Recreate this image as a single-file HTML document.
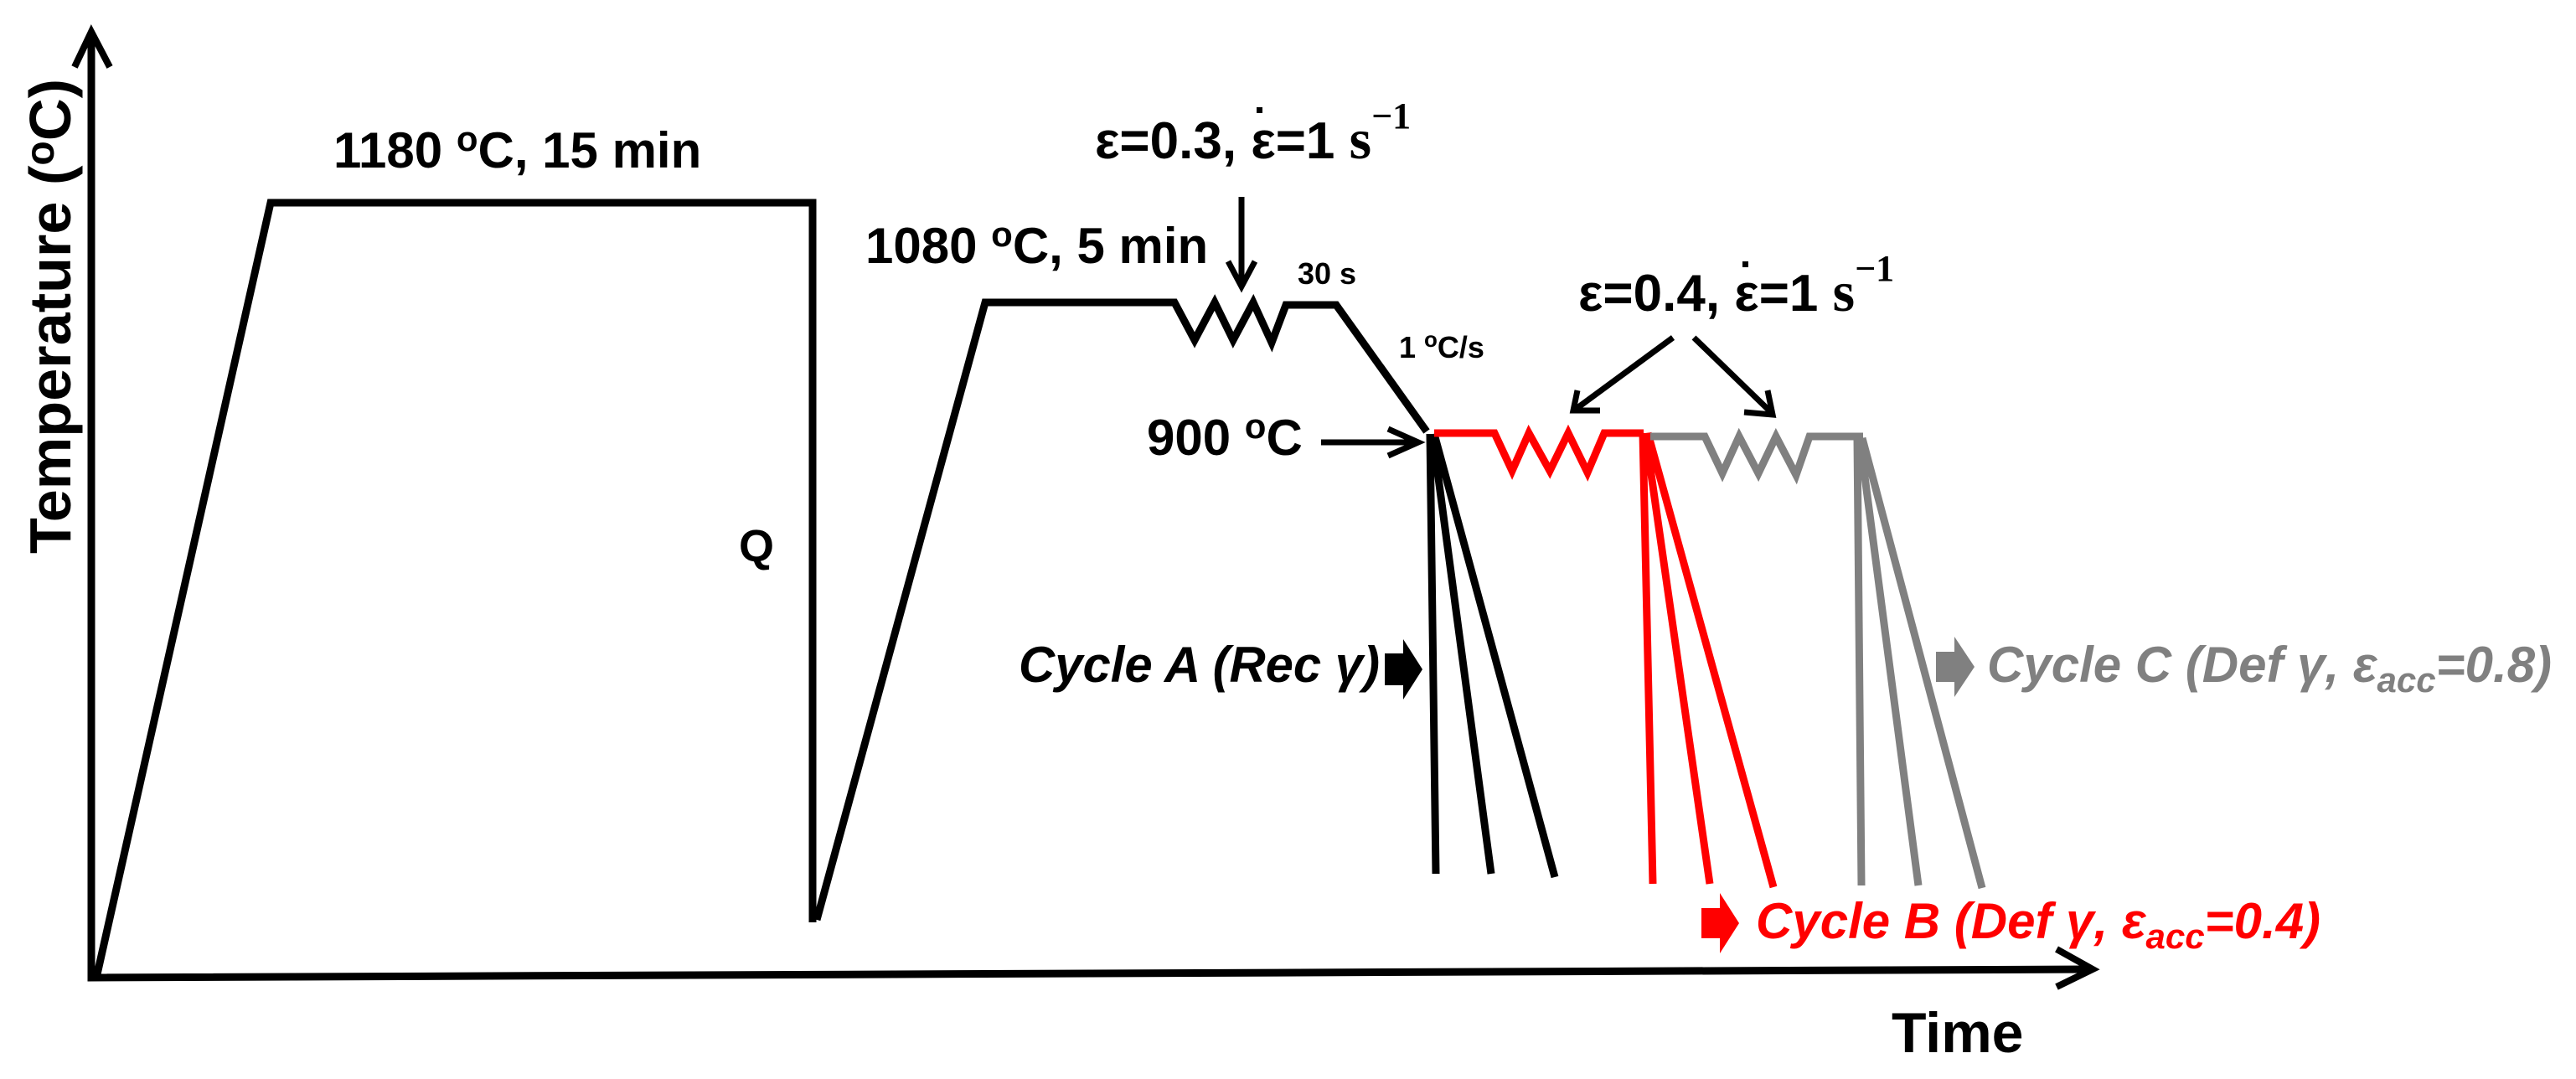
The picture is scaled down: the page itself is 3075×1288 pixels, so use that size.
<!DOCTYPE html>
<html><head><meta charset="utf-8"><style>
html,body{margin:0;padding:0;background:#fff}
svg{display:block}
text{font-family:"Liberation Sans",Arial,sans-serif;font-weight:bold}
</style></head><body>
<svg width="3075" height="1288" viewBox="0 0 3075 1288" xmlns="http://www.w3.org/2000/svg">
<g fill="none" stroke-width="9" stroke-linejoin="miter" stroke-linecap="butt">
<path d="M109 40 L109 1167 L2495 1157" stroke="#000"/>
<path d="M89 80 L109 38 L131 80" stroke="#000" stroke-width="8"/>
<path d="M2455 1133 L2498 1157 L2455 1178" stroke="#000" stroke-width="8"/>
<path d="M116 1163 L323 242 L970 242 L970 1101" stroke="#000"/>
<path d="M975 1098 L1176 361 L1402 361 L1426 406 L1450 361 L1472 406 L1496 361 L1518 409 L1535 364 L1595 364 L1703 515" stroke="#000"/>
<path d="M1707 518 L1714 1043 M1710 518 L1780 1043 M1712 518 L1856 1047" stroke="#000"/>
<path d="M1712 517 L1784 517 L1805 562 L1825 517 L1850 562 L1872 517 L1895 564 L1915 517 L1962 517" stroke="#ff0000"/>
<path d="M1961 517 L1973 1055 M1964 517 L2041 1055 M1967 517 L2117 1059" stroke="#ff0000"/>
<path d="M1970 521 L2035 521 L2056 565 L2076 521 L2099 565 L2120 521 L2144 567 L2160 521 L2224 521" stroke="#808080"/>
<path d="M2217 523 L2222 1057 M2220 523 L2290 1057 M2223 523 L2366 1060" stroke="#808080"/>
<path d="M1482 235 L1482 340" stroke="#000" stroke-width="7"/>
<path d="M1466 312 L1482 342 L1498 312" stroke="#000" stroke-width="7"/>
<path d="M1577 528 L1693 528" stroke="#000" stroke-width="7"/>
<path d="M1657 512 L1693 528 L1657 544" stroke="#000" stroke-width="7"/>
<path d="M1997 403 L1880 489" stroke="#000" stroke-width="7"/>
<path d="M1883 466 L1878 490 L1910 490" stroke="#000" stroke-width="7"/>
<path d="M2022 403 L2115 493" stroke="#000" stroke-width="7"/>
<path d="M2082 492 L2116 495 L2110 466" stroke="#000" stroke-width="7"/>
</g>
<polygon points="1653,780 1675,780 1675,763 1698,799 1675,835 1675,818 1653,818" fill="#000"/>
<polygon points="2031,1084 2053,1084 2053,1066 2076,1102 2053,1138 2053,1120 2031,1120" fill="#ff0000"/>
<polygon points="2311,778 2333,778 2333,760 2357,796 2333,832 2333,814 2311,814" fill="#808080"/>
<text x="0" y="0" font-size="70" transform="translate(84,661) rotate(-90)" textLength="567" lengthAdjust="spacingAndGlyphs">Temperature (<tspan font-size="48" dy="-20">o</tspan><tspan dy="20">C)</tspan></text>
<text x="398" y="200" font-size="60">1180 <tspan font-size="42" dy="-20">o</tspan><tspan dy="20">C, 15 min</tspan></text>
<text x="882" y="670" font-size="54">Q</text>
<text x="1033" y="314" font-size="60">1080 <tspan font-size="42" dy="-20">o</tspan><tspan dy="20">C, 5 min</tspan></text>
<text x="1307" y="189" font-size="62">ε=0.3, ε=1 <tspan font-family="Liberation Serif" font-size="68">s</tspan><tspan font-family="Liberation Serif" font-size="44" dy="-36">−1</tspan></text>
<rect x="1500" y="128" width="7" height="7" fill="#000"/>
<text x="1549" y="339" font-size="36">30 s</text>
<text x="1670" y="427" font-size="36">1 <tspan font-size="26" dy="-13">o</tspan><tspan dy="13">C/s</tspan></text>
<text x="1369" y="543" font-size="60">900 <tspan font-size="42" dy="-20">o</tspan><tspan dy="20">C</tspan></text>
<text x="1884" y="371" font-size="62">ε=0.4, ε=1 <tspan font-family="Liberation Serif" font-size="68">s</tspan><tspan font-family="Liberation Serif" font-size="44" dy="-36">−1</tspan></text>
<rect x="2080" y="312" width="7" height="7" fill="#000"/>
<text x="1216" y="814" font-size="60" font-style="italic" textLength="431" lengthAdjust="spacingAndGlyphs">Cycle A (Rec γ)</text>
<text x="2372" y="814" font-size="60" font-style="italic" fill="#808080">Cycle C (Def γ, ε<tspan font-size="42" dy="12">acc</tspan><tspan dy="-12">=0.8)</tspan></text>
<text x="2096" y="1120" font-size="60" font-style="italic" fill="#ff0000">Cycle B (Def γ, ε<tspan font-size="42" dy="12">acc</tspan><tspan dy="-12">=0.4)</tspan></text>
<text x="2258" y="1256" font-size="68">Time</text>
</svg>
</body></html>
